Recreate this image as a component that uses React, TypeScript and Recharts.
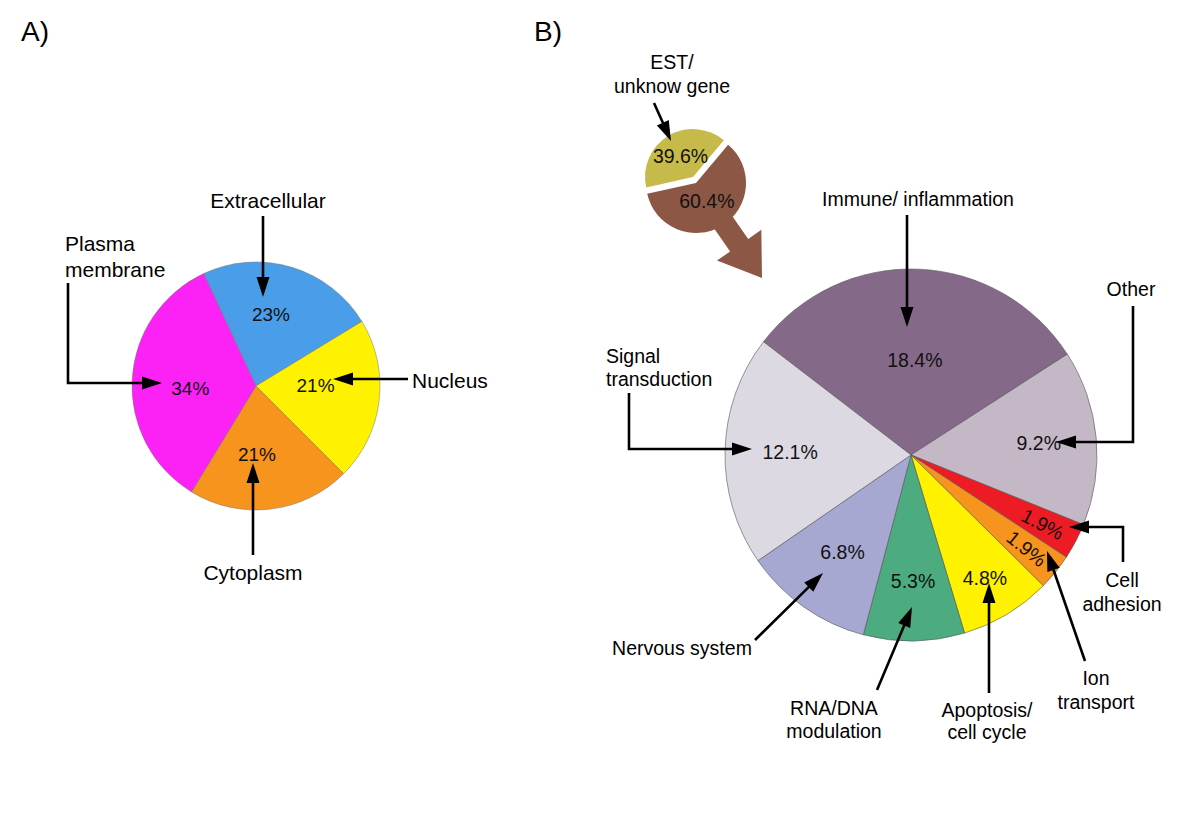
import React from 'react';
import { PieChart, Pie, Cell } from 'recharts';

// A) subcellular location
const locationNames = ['Extracellular', 'Nucleus', 'Cytoplasm', 'Plasma membrane'];
const locationValues = [23, 21, 21, 34];
const locationColors = ['#4a9de8', '#fff200', '#f7941d', '#fc21f5'];

// B) small pie: EST vs known genes
const estNames = ['EST/unknow gene', 'Known gene'];
const estValues = [39.6, 60.4];
const estColors = ['#c6bb4a', '#8d5745'];

// B) function of the known genes (% of all genes)
const functionNames = [
  'Immune/ inflammation',
  'Other',
  'Cell adhesion',
  'Ion transport',
  'Apoptosis/ cell cycle',
  'RNA/DNA modulation',
  'Nervous system',
  'Signal transduction',
];
const functionValues = [18.4, 9.2, 1.9, 1.9, 4.8, 5.3, 6.8, 12.1];
const functionColors = ['#846a88', '#c4b8c6', '#ed1c24', '#f7941d', '#fff200', '#4dab80', '#a6a8d2', '#dcd9e2'];

const locationData = locationNames.map((name, i) => ({ name, value: locationValues[i] }));
const estData = estNames.map((name, i) => ({ name, value: estValues[i] }));
const functionData = functionNames.map((name, i) => ({ name, value: functionValues[i] }));

const FONT = '"Liberation Sans", Arial, Helvetica, sans-serif';
const RAD = Math.PI / 180;

// label placement: share of the radius and a small angle nudge (degrees)
const funcLabelR: Record<string, [number, number]> = {
  'Immune/ inflammation': [0.51, 0],
  'Signal transduction': [0.65, 0],
  Other: [0.69, 0],
  'Nervous system': [0.64, 0],
  'RNA/DNA modulation': [0.68, 0],
  'Apoptosis/ cell cycle': [0.77, 0],
};
const locLabelR: Record<string, [number, number]> = {
  Extracellular: [0.59, 5],
  Nucleus: [0.48, 7],
  Cytoplasm: [0.55, -6],
  'Plasma membrane': [0.53, 5],
};

function pctLabel(fontSize: number, place: (name: string) => [number, number], only?: number) {
  return (p: any) => {
    if (only !== undefined && p.index !== only) return null;
    const name = p.name ?? p.payload?.name;
    const [k, da] = place(name);
    const r = p.outerRadius * k;
    const ang = p.midAngle + da;
    const x = p.cx + r * Math.cos(-ang * RAD);
    const y = p.cy + r * Math.sin(-ang * RAD);
    const tilt = p.value < 3;
    return (
      <text
        key={`l-${p.index}`}
        x={x}
        y={y}
        textAnchor="middle"
        dominantBaseline="central"
        fontSize={fontSize}
        fontFamily={FONT}
        fill="#111"
        transform={tilt ? `rotate(${-p.midAngle} ${x} ${y})` : undefined}
      >
        {`${p.value}%`}
      </text>
    );
  };
}

type Pt = [number, number];

function Arrow({ pts }: { pts: Pt[] }) {
  const [a, b] = [pts[pts.length - 2], pts[pts.length - 1]];
  const dx = b[0] - a[0];
  const dy = b[1] - a[1];
  const len = Math.hypot(dx, dy);
  const ux = dx / len;
  const uy = dy / len;
  const hl = 20;
  const hw = 6.5;
  const bx = b[0] - ux * hl;
  const by = b[1] - uy * hl;
  const line = [...pts.slice(0, -1), [bx + ux * 2, by + uy * 2]] as Pt[];
  return (
    <g>
      <polyline points={line.map((p) => p.join(',')).join(' ')} fill="none" stroke="#000" strokeWidth={2.6} />
      <polygon
        points={`${b[0]},${b[1]} ${bx - uy * hw},${by + ux * hw} ${bx + uy * hw},${by - ux * hw}`}
        fill="#000"
      />
    </g>
  );
}

function Label({ x, y, lines, anchor = 'middle', size = 19.5, gap = 24 }: any) {
  return (
    <text x={x} y={y} textAnchor={anchor} fontSize={size} fontFamily={FONT} fill="#000" dominantBaseline="central">
      {lines.map((t: string, i: number) => (
        <tspan key={i} x={x} y={y + i * gap}>
          {t}
        </tspan>
      ))}
    </text>
  );
}

function FatArrow({ from, to }: { from: Pt; to: Pt }) {
  const dx = to[0] - from[0];
  const dy = to[1] - from[1];
  const len = Math.hypot(dx, dy);
  const ux = dx / len;
  const uy = dy / len;
  const px = -uy;
  const py = ux;
  const sw = 11;
  const hw = 27;
  const hb: Pt = [to[0] - ux * 40, to[1] - uy * 40];
  const pts: Pt[] = [
    [from[0] + px * sw, from[1] + py * sw],
    [hb[0] + px * sw, hb[1] + py * sw],
    [hb[0] + px * hw, hb[1] + py * hw],
    to,
    [hb[0] - px * hw, hb[1] - py * hw],
    [hb[0] - px * sw, hb[1] - py * sw],
    [from[0] - px * sw, from[1] - py * sw],
  ];
  return <polygon points={pts.map((p) => p.join(',')).join(' ')} fill={estColors[1]} />;
}

export default function App() {
  return (
    <div style={{ position: 'absolute', left: 0, top: 0, width: 1200, height: 834, background: '#fff' }}>
      <svg width={1200} height={834} style={{ position: 'absolute', left: 0, top: 0 }}>
        <FatArrow from={[698, 186]} to={[762, 278]} />
      </svg>
      <div style={{ position: 'absolute', left: 0, top: 0 }}>
        <PieChart width={1200} height={834}>
          <Pie
            data={locationData}
            dataKey="value"
            nameKey="name"
            cx={251}
            cy={381}
            outerRadius={124}
            startAngle={115}
            endAngle={-245}
            label={pctLabel(19, (n) => locLabelR[n] ?? [0.55, 0])}
            labelLine={false}
            isAnimationActive={false}
          >
            {locationData.map((d, i) => (
              <Cell key={d.name} fill={locationColors[i]} stroke="#777" strokeWidth={0.5} />
            ))}
          </Pie>
          <Pie
            data={estData}
            dataKey="value"
            nameKey="name"
            cx={691}
            cy={178}
            outerRadius={50}
            startAngle={50}
            endAngle={410}
            label={pctLabel(19.5, () => [0.42, 0], 1)}
            labelLine={false}
            isAnimationActive={false}
          >
            {estData.map((d, i) => (
              <Cell key={d.name} fill={i === 1 ? estColors[1] : 'none'} stroke="none" />
            ))}
          </Pie>
          <Pie
            data={estData}
            dataKey="value"
            nameKey="name"
            cx={688}
            cy={172}
            outerRadius={48}
            startAngle={50}
            endAngle={410}
            label={pctLabel(19.5, () => [0.5, 0], 0)}
            labelLine={false}
            isAnimationActive={false}
          >
            {estData.map((d, i) => (
              <Cell key={d.name} fill={i === 0 ? estColors[0] : 'none'} stroke="none" />
            ))}
          </Pie>
          <Pie
            data={functionData}
            dataKey="value"
            nameKey="name"
            cx={906}
            cy={450}
            outerRadius={186}
            startAngle={142.5}
            endAngle={-217.5}
            label={pctLabel(19.5, (n) => funcLabelR[n] ?? [0.8, 0])}
            labelLine={false}
            isAnimationActive={false}
          >
            {functionData.map((d, i) => (
              <Cell key={d.name} fill={functionColors[i]} stroke="#555" strokeWidth={0.6} />
            ))}
          </Pie>
        </PieChart>
      </div>
      <svg width={1200} height={834} style={{ position: 'absolute', left: 0, top: 0, pointerEvents: 'none' }}>
        <Label x={21} y={31} lines={['A)']} anchor="start" size={28} />
        <Label x={534} y={31} lines={['B)']} anchor="start" size={28} />

        <Label x={268} y={200} lines={['Extracellular']} size={21} />
        <Arrow pts={[[263, 216], [263, 297]]} />
        <Label x={65} y={243} lines={['Plasma', 'membrane']} anchor="start" size={21} gap={26} />
        <Arrow pts={[[68, 283], [68, 383], [162, 383]]} />
        <Label x={412} y={380} lines={['Nucleus']} anchor="start" size={21} />
        <Arrow pts={[[408, 379], [333, 379]]} />
        <Label x={253} y={572} lines={['Cytoplasm']} size={21} />
        <Arrow pts={[[253, 555], [253, 463]]} />

        <Label x={672} y={62} lines={['EST/', 'unknow gene']} />
        <Arrow pts={[[654, 103], [671, 141]]} />
        <Label x={918} y={199} lines={['Immune/ inflammation']} />
        <Arrow pts={[[907, 215], [907, 327]]} />
        <Label x={1131} y={289} lines={['Other']} />
        <Arrow pts={[[1133, 306], [1133, 442], [1056, 442]]} />
        <Label x={606} y={356} lines={['Signal', 'transduction']} anchor="start" gap={23} />
        <Arrow pts={[[629, 393], [629, 449], [752, 449]]} />
        <Label x={1122} y={580} lines={['Cell', 'adhesion']} gap={24} />
        <Arrow pts={[[1123, 562], [1123, 527], [1069, 527]]} />
        <Label x={1096} y={678} lines={['Ion', 'transport']} gap={24} />
        <Arrow pts={[[1085, 661], [1047, 551]]} />
        <Label x={987} y={710} lines={['Apoptosis/', 'cell cycle']} gap={22} />
        <Arrow pts={[[989, 693], [989, 583]]} />
        <Label x={834} y={708} lines={['RNA/DNA', 'modulation']} gap={23} />
        <Arrow pts={[[877, 690], [912, 607]]} />
        <Label x={682} y={648} lines={['Nervous system']} />
        <Arrow pts={[[755, 640], [823, 573]]} />
      </svg>
    </div>
  );
}
